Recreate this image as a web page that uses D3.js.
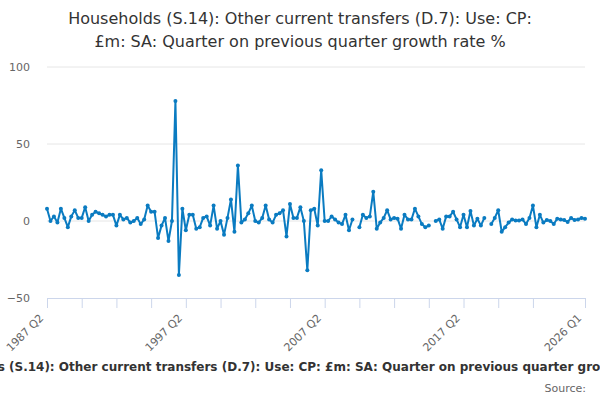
<!DOCTYPE html>
<html>
<head>
<meta charset="utf-8">
<script src="https://cdn.jsdelivr.net/npm/d3@7"></script>
<style>
  body { margin: 0; background: #fff; }
  svg { font-family: "DejaVu Sans", Verdana, sans-serif; }
</style>
</head>
<body>
<div id="chart"></div>
<script>
// quarterly growth rate, 1987 Q2 .. 2026 Q1 (null = no value)
let growth = [
    8, 0, 3, -1, 8, 2, -4, 3, 7, 2,
    2, 9, 0, 4, 6, 5, 4, 3, 4, 4,
    -3, 4, 1, 2, -1, 0, 2, -2, 1, 10,
    6, 6, -11, -3, 2, -13, 0, 78, -35, 8,
    -6, 4, 4, -5, -4, 2, 3, -3, 10, -5,
    0, -9, 2, 14, -7, 36, -1, 1, 5, 10,
    0, -1, 2, 10, 1, -1, 4, 5, 7, -10,
    11, 2, 2, 9, 0, -32, 7, 8, -3, 33,
    0, 0, 3, 1, -1, -2, 4, -6, 1, null,
    -4, 4, 2, 3, 19, -5, -1, 2, 7, 1,
    2, 1.5, -5, 4, 1, 1, 8, 3, -2, -4,
    -3, null, 0, 1, -5, 3, 3, 6, 1, -4,
    4, -4, 6.5, -3, 1.5, -3, 2, null, -2, 2,
    7, -7, -4, -1, 1, 0.4, 0.4, 1, -2, 2,
    10, -4, 4, -1, 0.6, 0, -2, 1.5, 1, 0.6,
    -0.6, 2, 0.6, 1, 2, 1.5
];

// category labels
let quarters = growth.map((v, i) => {
    let q = 1 + i; // 1987 Q2 is quarter index 1 of 1987
    return (1987 + Math.floor(q / 4)) + " Q" + (q % 4 + 1);
});

let yTicks = [-50, 0, 50, 100];
let xTickIdx = [0, 10, 20, 30, 40, 50, 60, 70, 80, 90, 100, 110, 120, 130, 140, 155];
let xLabelIdx = [0, 40, 80, 120, 155];

let titleLines = [
    "Households (S.14): Other current transfers (D.7): Use: CP:",
    "£m: SA: Quarter on previous quarter growth rate %"
];
let captionText = "Households (S.14): Other current transfers (D.7): Use: CP: £m: SA: Quarter on previous quarter growth rate %";

let svgWidth = 600;
let svgHeight = 400;
let margin = { top: 67, right: 15, bottom: 102, left: 47 };
let width = svgWidth - margin.left - margin.right;
let height = svgHeight - margin.top - margin.bottom;

let svg = d3.select("#chart")
    .append("svg")
    .attr("width", svgWidth)
    .attr("height", svgHeight);

// title
svg.append("text")
    .attr("x", svgWidth / 2)
    .attr("y", 24)
    .attr("text-anchor", "middle")
    .attr("font-size", "16px")
    .attr("fill", "#333")
    .selectAll("tspan")
    .data(titleLines)
    .enter()
    .append("tspan")
    .attr("x", svgWidth / 2)
    .attr("dy", (d, i) => i === 0 ? 0 : 23)
    .text(d => d);

let chartGroup = svg.append("g")
    .attr("transform", `translate(${margin.left}, ${margin.top})`);

let xScale = d3.scaleLinear()
    .domain([0, growth.length - 1])
    .range([0, width]);

let yScale = d3.scaleLinear()
    .domain([-50, 100])
    .range([height, 0]);

// gridlines
chartGroup.append("g")
    .selectAll("line")
    .data(yTicks.filter(t => t !== -50))
    .enter()
    .append("line")
    .attr("x1", 0)
    .attr("x2", width)
    .attr("y1", d => yScale(d))
    .attr("y2", d => yScale(d))
    .attr("stroke", "#e6e6e6")
    .attr("stroke-width", 1);

// y axis labels
let leftAxis = d3.axisLeft(yScale)
    .tickValues(yTicks)
    .tickSize(0)
    .tickPadding(17);

let yAxis = chartGroup.append("g").call(leftAxis);
yAxis.select(".domain").remove();
yAxis.selectAll("text")
    .attr("font-size", "11px")
    .attr("font-family", "DejaVu Sans, sans-serif")
    .attr("fill", "#666");

// x axis
let bottomAxis = d3.axisBottom(xScale)
    .tickValues(xTickIdx)
    .tickSize(10)
    .tickSizeOuter(0)
    .tickFormat(i => xLabelIdx.includes(i) ? quarters[i] : "");

let xAxis = chartGroup.append("g")
    .attr("transform", `translate(0, ${height})`)
    .call(bottomAxis);

xAxis.select(".domain").attr("stroke", "#ccd6eb");
xAxis.selectAll(".tick line").attr("stroke", "#ccd6eb");
xAxis.selectAll("text")
    .attr("font-size", "11px")
    .attr("font-family", "DejaVu Sans, sans-serif")
    .attr("fill", "#666")
    .attr("text-anchor", "end")
    .attr("x", 0)
    .attr("y", 0)
    .attr("dy", "0.35em")
    .attr("transform", "translate(-6, 18) rotate(-45)");

// series line
let line = d3.line()
    .defined(d => d != null)
    .x((d, i) => xScale(i))
    .y(d => yScale(d));

chartGroup.append("path")
    .datum(growth)
    .attr("fill", "none")
    .attr("stroke", "#0a7bc1")
    .attr("stroke-width", 2)
    .attr("stroke-linejoin", "round")
    .attr("d", line);

chartGroup.selectAll("circle")
    .data(growth.map((v, i) => ({ v: v, i: i })).filter(d => d.v != null))
    .enter()
    .append("circle")
    .attr("cx", d => xScale(d.i))
    .attr("cy", d => yScale(d.v))
    .attr("r", 2)
    .attr("fill", "#0a7bc1");

// caption and source
svg.append("text")
    .attr("x", svgWidth / 2)
    .attr("y", 371)
    .attr("text-anchor", "middle")
    .attr("font-size", "12px")
    .attr("font-weight", "bold")
    .attr("fill", "#333")
    .text(captionText);

svg.append("text")
    .attr("x", 586)
    .attr("y", 392)
    .attr("text-anchor", "end")
    .attr("font-size", "11px")
    .attr("fill", "#666")
    .text("Source:");
</script>
</body>
</html>
